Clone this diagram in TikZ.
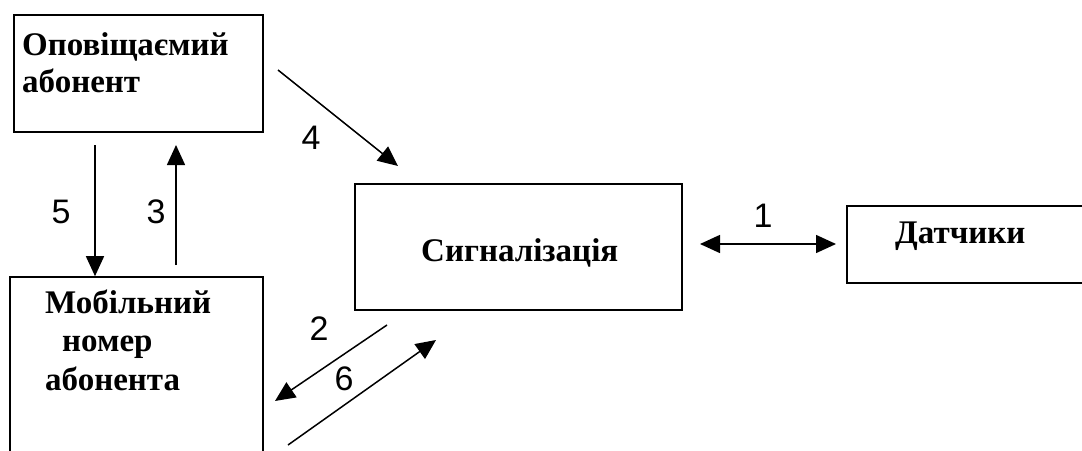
\documentclass[tikz,border=0pt]{standalone}
\usepackage{fontspec}
\setmainfont{Liberation Serif}
\newfontfamily\numfont{Liberation Sans}
\usetikzlibrary{arrows.meta}
\tikzset{
  blockbox/.style={draw, line width=1.6pt, rectangle, inner sep=0pt},
  boxtext/.style={anchor=base west, inner sep=0pt,
    font=\fontsize{33}{38.5}\selectfont\bfseries},
  flow/.style={line width=1.5pt, -{Triangle[length=20pt,width=18pt]}},
  twoway/.style={line width=1.5pt, {Triangle[length=20pt,width=18pt]}-{Triangle[length=20pt,width=18pt]}},
  numlabel/.style={inner sep=0pt, font=\fontsize{34}{34}\selectfont\numfont}
}
\begin{document}
\begin{tikzpicture}[x=1pt, y=-1pt]
  \useasboundingbox (0,0) rectangle (1082,450);
  \clip (0,0) rectangle (1082,450);
  \fill[white] (0,0) rectangle (1082,450);

  % blocks
  \node[blockbox, minimum width=249pt, minimum height=117pt] (A) at (138.5,73.5) {};
  \node[blockbox, minimum width=253pt, minimum height=230pt] (B) at (136.5,392) {};
  \node[blockbox, minimum width=327pt, minimum height=126pt] (C) at (518.5,247) {};
  \node[blockbox, minimum width=260pt, minimum height=77pt] (D) at (977,244.5) {};

  % block captions
  \node[boxtext] (tA1) at (22,55) {Оповіщаємий};
  \node[boxtext] (tA2) at (22,92) {абонент};
  \node[boxtext] (tB1) at (45,313) {Мобільний};
  \node[boxtext] (tB2) at (62,351.5) {номер};
  \node[boxtext] (tB3) at (45,390) {абонента};
  \node[boxtext] (tC) at (421,261) {Сигналізація};
  \node[boxtext] (tD) at (895,243) {Датчики};

  % loose arrow ends
  \coordinate (s5) at (95,145);
  \coordinate (s3) at (176,265);
  \coordinate (e3) at (176,145);
  \coordinate (s4) at (278,70);
  \coordinate (e4) at (398,166);
  \coordinate (s2) at (387,325);
  \coordinate (e2) at (275,401);
  \coordinate (s6) at (288,445);
  \coordinate (e6) at (436,340);
  \coordinate (s1) at (700,244);
  \coordinate (e1) at (836,244);

  % arrows
  \draw[flow] (s5) -- (s5 |- B.north);
  \draw[flow] (s3) -- (e3);
  \draw[flow] (s4) -- (e4);
  \draw[flow] (s2) -- (e2);
  \draw[flow] (s6) -- (e6);
  \draw[twoway] (s1) -- (e1);

  % arrow numbers
  \node[numlabel] (n5) at (61,212) {5};
  \node[numlabel] (n3) at (156,212) {3};
  \node[numlabel] (n4) at (311,138) {4};
  \node[numlabel] (n1) at (763,216) {1};
  \node[numlabel] (n2) at (319,329) {2};
  \node[numlabel] (n6) at (344,379) {6};
\end{tikzpicture}
\end{document}
